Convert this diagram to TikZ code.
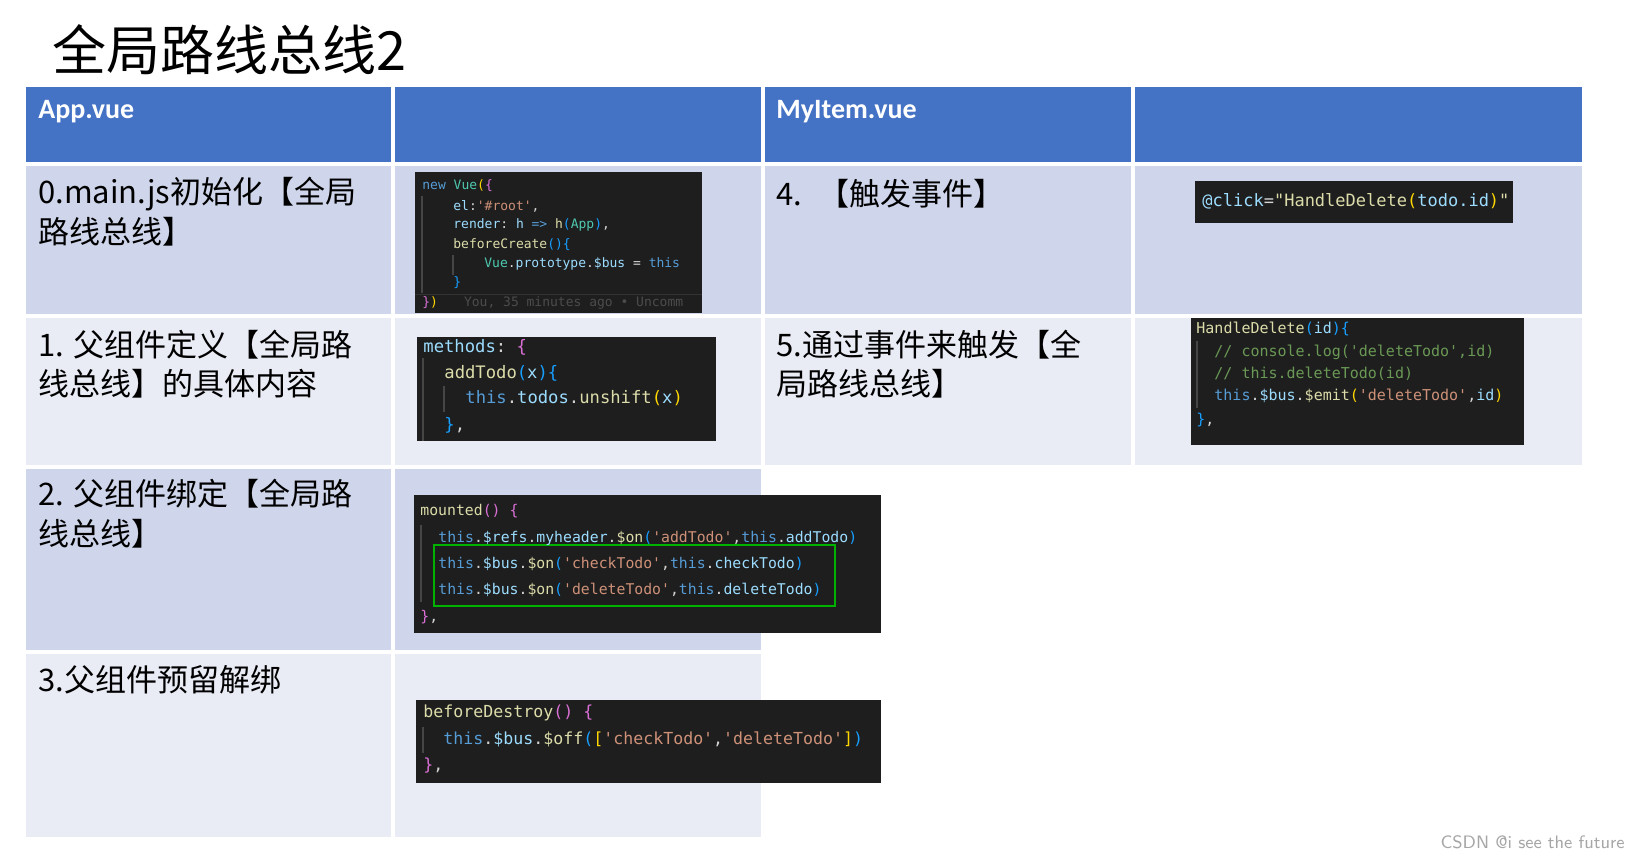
\documentclass[tikz,border=0pt]{standalone}
\usepackage{fontspec}
\setmainfont{Carlito}
\setmonofont{DejaVu Sans Mono}
\newfontfamily\cjk{Noto Sans CJK SC}
\definecolor{hdr}{HTML}{4472C4}
\definecolor{rowA}{HTML}{CFD5EA}
\definecolor{rowB}{HTML}{E9EBF5}
\definecolor{cbg}{HTML}{1E1E1E}
\definecolor{ckw}{HTML}{569CD6}
\definecolor{cfn}{HTML}{DCDCAA}
\definecolor{cvar}{HTML}{9CDCFE}
\definecolor{cstr}{HTML}{CE9178}
\definecolor{cteal}{HTML}{4EC9B0}
\definecolor{ccom}{HTML}{6A9955}
\definecolor{cyl}{HTML}{FFD700}
\definecolor{cpu}{HTML}{DA70D6}
\definecolor{cbl}{HTML}{179FFF}
\definecolor{cwh}{HTML}{D4D4D4}
\newcommand\Kw[1]{\textcolor{ckw}{#1}}
\newcommand\Fn[1]{\textcolor{cfn}{#1}}
\newcommand\Va[1]{\textcolor{cvar}{#1}}
\newcommand\St[1]{\textcolor{cstr}{#1}}
\newcommand\Te[1]{\textcolor{cteal}{#1}}
\newcommand\Co[1]{\textcolor{ccom}{#1}}
\newcommand\Yl[1]{\textcolor{cyl}{#1}}
\newcommand\Pu[1]{\textcolor{cpu}{#1}}
\newcommand\Bl[1]{\textcolor{cbl}{#1}}
\newcommand\Wh[1]{\textcolor{cwh}{#1}}
\begin{document}
\begin{tikzpicture}[x=0.5pt,y=-0.5pt,
  cell/.style={font=\cjk\fontsize{15.5}{19}\selectfont, anchor=west, inner sep=0pt},
  head/.style={font=\bfseries\fontsize{14}{16}\selectfont, text=white, anchor=west, inner sep=0pt},
  codebox/.style={fill=cbg, draw=none},
  guide/.style={draw=gray!55!black, line width=0.6pt},
  code/.style={anchor=west, inner sep=0pt, text=cwh}]
\useasboundingbox (0,0) rectangle (1632,856);
\fill[white] (0,0) rectangle (1632,856);
% title
\node[font=\cjk\fontsize{27}{30}\selectfont, anchor=west, inner sep=0pt] (title) at (52,50) {全局路线总线2};
% header row
\foreach \a/\b in {26/391,395/761,765/1131,1135/1582}
  \fill[hdr] (\a,87) rectangle (\b,162);
% row 0
\foreach \a/\b in {26/391,395/761,765/1131,1135/1582}
  \fill[rowA] (\a,166) rectangle (\b,314);
% row 1
\foreach \a/\b in {26/391,395/761,765/1131,1135/1582}
  \fill[rowB] (\a,318) rectangle (\b,465);
% row 2
\foreach \a/\b in {26/391,395/761}
  \fill[rowA] (\a,469) rectangle (\b,650);
% row 3
\foreach \a/\b in {26/391,395/761}
  \fill[rowB] (\a,654) rectangle (\b,837);
% header text
\node[head] (h1) at (38,112) {App.vue};
\node[head] (h2) at (776,112) {MyItem.vue};
% cell texts
\node[cell] (t0a) at (38,194) {0.main.js初始化【全局};
\node[cell] (t0b) at (38,232) {路线总线】};
\node[cell] (t1a) at (38,345) {1. 父组件定义【全局路};
\node[cell] (t1b) at (38,384) {线总线】的具体内容};
\node[cell] (t2a) at (38,494) {2. 父组件绑定【全局路};
\node[cell] (t2b) at (38,534) {线总线】};
\node[cell] (t3a) at (38,680) {3.父组件预留解绑};
\node[cell] (t4a) at (776,194) {4. \ 【触发事件】};
\node[cell] (t5a) at (776,345) {5.通过事件来触发【全};
\node[cell] (t5b) at (776,384) {局路线总线】};
% ---------- code block 0
\fill[codebox] (415,172) rectangle (702,313);
\draw[guide] (422,196) -- (422,293);
\draw[guide] (453,255) -- (453,275);
\draw[draw=gray!40!black] (415,294) -- (702,294);
\begin{scope}[every node/.style={code, font=\ttfamily\fontsize{6.5}{7}\selectfont}]
\node (c0a) at (422,186) {\Kw{new} \Te{Vue}\Yl{(}\Pu{\{}};
\node (c0b) at (453,206) {\Va{el}:\St{'\#root'},};
\node (c0c) at (453,225) {\Va{render}: \Va{h} \Kw{=>} \Fn{h}\Bl{(}\Te{App}\Bl{)},};
\node (c0d) at (453,245) {\Fn{beforeCreate}\Bl{()\{}};
\node (c0e) at (484,264) {\Te{Vue}.\Va{prototype}.\Va{\$bus} = \Kw{this}};
\node (c0f) at (453,283) {\Bl{\}}};
\node (c0g) at (422,303) {\Pu{\}}\Yl{)}\qquad\textcolor{gray!60!black}{You, 35 minutes ago • Uncomm}};
\end{scope}
% ---------- code block 1
\fill[codebox] (417,337) rectangle (716,441);
\draw[guide] (423,358) -- (423,441);
\draw[guide] (444,386) -- (444,412);
\begin{scope}[every node/.style={code, font=\ttfamily\fontsize{8.6}{9}\selectfont}]
\node (c1a) at (423,347) {\Va{methods}: \Pu{\{}};
\node (c1b) at (444,373) {\Fn{addTodo}\Bl{(}\Va{x}\Bl{)\{}};
\node (c1c) at (465,398) {\Kw{this}.\Va{todos}.\Fn{unshift}\Yl{(}\Va{x}\Yl{)}};
\node (c1d) at (444,425) {\Bl{\}},};
\end{scope}
% ---------- code block 4
\fill[codebox] (1195,181) rectangle (1513,223);
\begin{scope}[every node/.style={code, font=\ttfamily\fontsize{8.5}{9}\selectfont}]
\node (c4a) at (1202,201) {\Va{@click}=\Fn{"HandleDelete}\Yl{(}\Va{todo.id}\Yl{)}\Fn{"}};
\end{scope}
% ---------- code block 5
\fill[codebox] (1191,318) rectangle (1524,445);
\draw[guide] (1197,341) -- (1197,408);
\begin{scope}[every node/.style={code, font=\ttfamily\fontsize{7.5}{8}\selectfont}]
\node (c5a) at (1196,329) {\Fn{HandleDelete}\Bl{(}\Va{id}\Bl{)\{}};
\node (c5b) at (1214,352) {\Co{// console.log('deleteTodo',id)}};
\node (c5c) at (1214,374) {\Co{// this.deleteTodo(id)}};
\node (c5d) at (1214,396) {\Kw{this}.\Va{\$bus}.\Fn{\$emit}\Yl{(}\St{'deleteTodo'},\Va{id}\Yl{)}};
\node (c5e) at (1196,420) {\Bl{\}},};
\end{scope}
% ---------- code block 2
\fill[codebox] (414,495) rectangle (881,633);
\draw[guide] (421,525) -- (421,602);
\draw[draw=green!70!black, line width=1.2pt] (434,545) rectangle (835,606);
\begin{scope}[every node/.style={code, font=\ttfamily\fontsize{7.4}{8}\selectfont}]
\node (c2a) at (420,511) {\Fn{mounted}\Pu{()} \Pu{\{}};
\node (c2b) at (438,538) {\Kw{this}.\Va{\$refs}.\Va{myheader}.\Fn{\$on}\Bl{(}\St{'addTodo'},\Kw{this}.\Va{addTodo}\Bl{)}};
\node (c2c) at (438,564) {\Kw{this}.\Va{\$bus}.\Fn{\$on}\Bl{(}\St{'checkTodo'},\Kw{this}.\Va{checkTodo}\Bl{)}};
\node (c2d) at (438,590) {\Kw{this}.\Va{\$bus}.\Fn{\$on}\Bl{(}\St{'deleteTodo'},\Kw{this}.\Va{deleteTodo}\Bl{)}};
\node (c2e) at (420,617) {\Pu{\}},};
\end{scope}
% ---------- code block 3
\fill[codebox] (416,700) rectangle (881,783);
\draw[guide] (423,727) -- (423,753);
\begin{scope}[every node/.style={code, font=\ttfamily\fontsize{8.3}{9}\selectfont}]
\node (c3a) at (423,713) {\Fn{beforeDestroy}\Pu{()} \Pu{\{}};
\node (c3b) at (443,739) {\Kw{this}.\Va{\$bus}.\Fn{\$off}\Bl{(}\Yl{[}\St{'checkTodo'},\St{'deleteTodo'}\Yl{]}\Bl{)}};
\node (c3c) at (423,766) {\Pu{\}},};
\end{scope}
% watermark
\node[anchor=east, inner sep=0pt, text=gray!70, font=\sffamily\fontsize{9}{10}\selectfont] (wm) at (1625,842) {CSDN @i see the future};
\end{tikzpicture}
\end{document}
